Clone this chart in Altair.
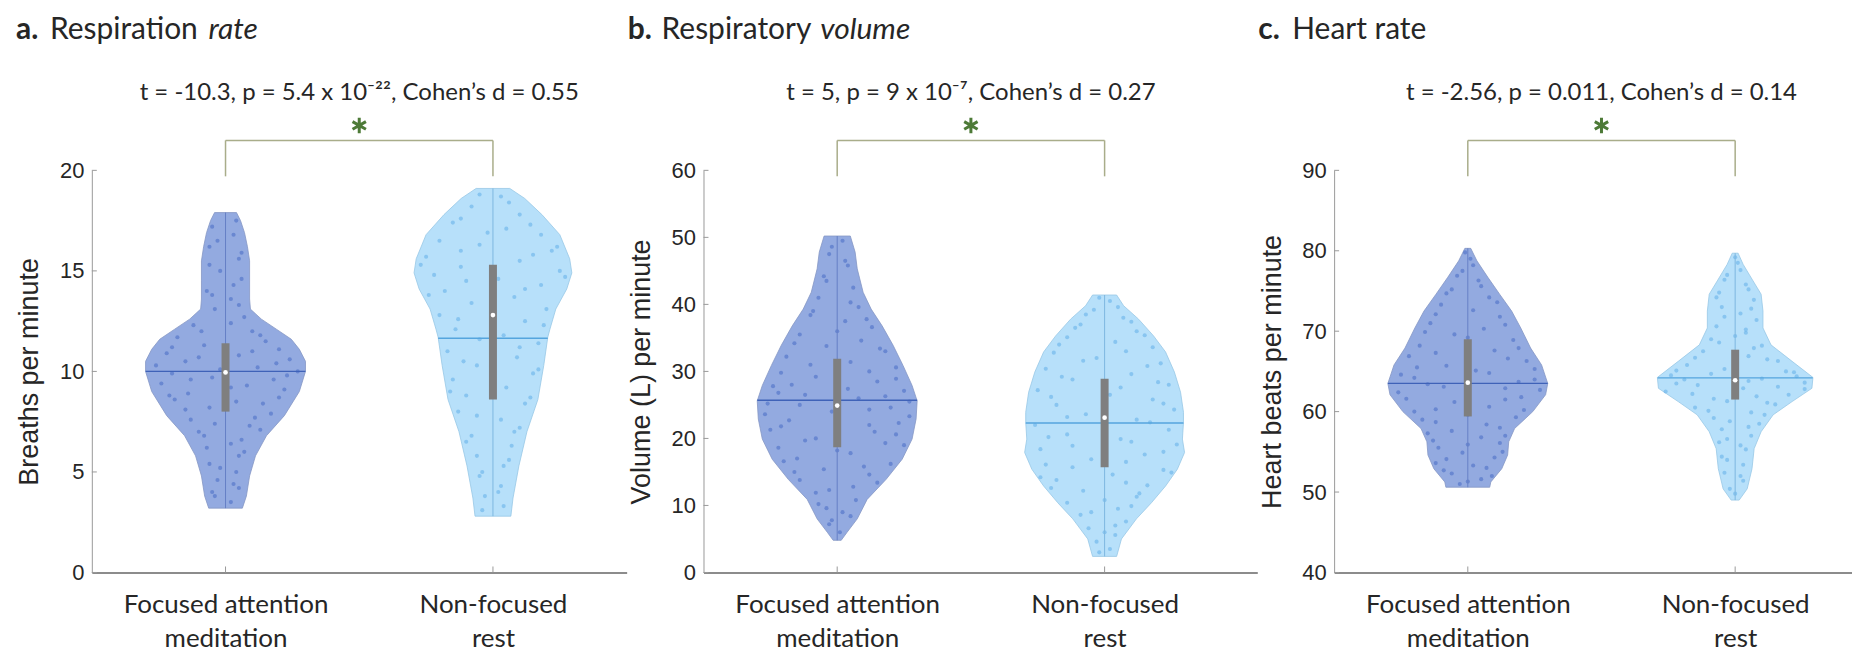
import altair as alt
import pandas as pd

# ---------------- data ----------------
FA_LABEL = ["Focused attention", "meditation"]
NF_LABEL = ["Non-focused", "rest"]

# violin outlines: y levels and half-widths (in category units)
a_fa_y = [3.2, 3.8, 4.8, 5.8, 6.8, 7.8, 9.0, 10.0, 10.5, 11.1, 11.6, 12.1, 12.6, 13.1, 13.6, 14.5, 15.5, 16.2, 16.9, 17.5, 17.9]
a_fa_w = [0.063, 0.078, 0.090, 0.112, 0.153, 0.220, 0.276, 0.299, 0.299, 0.276, 0.246, 0.190, 0.134, 0.093, 0.090, 0.090, 0.090, 0.082, 0.071, 0.056, 0.041]
a_nf_y = [2.8, 3.7, 5.3, 7.0, 8.6, 10.3, 11.7, 12.1, 13.1, 14.1, 14.9, 15.6, 16.8, 17.8, 18.6, 19.1]
a_nf_w = [0.067, 0.075, 0.097, 0.127, 0.168, 0.190, 0.205, 0.213, 0.235, 0.276, 0.295, 0.287, 0.250, 0.183, 0.119, 0.063]
b_fa_y = [4.8, 6.0, 8.0, 10.9, 13.9, 16.9, 19.9, 22.9, 25.6, 27.9, 30.9, 33.9, 36.8, 39.3, 41.8, 45.3, 47.8, 50.2]
b_fa_w = [0.015, 0.037, 0.075, 0.112, 0.183, 0.243, 0.280, 0.295, 0.299, 0.280, 0.246, 0.209, 0.168, 0.127, 0.097, 0.075, 0.067, 0.049]
b_nf_y = [2.4, 5.0, 8.0, 10.4, 12.9, 15.4, 17.9, 19.9, 22.4, 23.9, 26.9, 29.9, 32.9, 35.3, 37.8, 39.8, 41.4]
b_nf_w = [0.045, 0.063, 0.119, 0.175, 0.228, 0.272, 0.299, 0.291, 0.295, 0.295, 0.284, 0.261, 0.228, 0.183, 0.127, 0.071, 0.045]
c_fa_y = [50.6, 51.25, 52.9, 54.6, 56.25, 57.9, 60.0, 62.1, 63.5, 65.8, 67.9, 70.4, 72.5, 74.6, 76.7, 78.75, 80.3]
c_fa_w = [0.082, 0.086, 0.127, 0.149, 0.153, 0.175, 0.243, 0.291, 0.299, 0.276, 0.235, 0.198, 0.164, 0.119, 0.075, 0.034, 0.011]
c_nf_y = [49.0, 50.4, 52.9, 55.4, 57.5, 59.6, 61.25, 62.9, 64.25, 66.25, 68.3, 70.4, 72.5, 74.6, 76.25, 78.3, 79.7]
c_nf_w = [0.015, 0.045, 0.063, 0.071, 0.097, 0.142, 0.213, 0.287, 0.291, 0.213, 0.134, 0.104, 0.104, 0.097, 0.067, 0.030, 0.011]

# summary: q1, q3, median, mean, mean-line half width
a_fa_stats = [8.0, 11.4, 9.95, 10.0, 0.299]
a_nf_stats = [8.6, 15.3, 12.8, 11.65, 0.205]
b_fa_stats = [18.7, 31.9, 24.9, 25.7, 0.299]
b_nf_stats = [15.7, 28.9, 23.1, 22.3, 0.295]
c_fa_stats = [59.4, 69.0, 63.6, 63.5, 0.299]
c_nf_stats = [61.5, 67.7, 63.9, 64.2, 0.290]

# individual data points (offset from category centre, value)
a_fa_dx = [-0.05, 0.03, -0.06, 0.05, -0.02, 0.06, -0.07, 0.02, -0.04, 0.07, -0.12, 0.10, -0.18, 0.15, -0.08, 0.20, -0.22, 0.05, 0.24, -0.15, -0.26, 0.12, 0.27, -0.20, -0.05, 0.18, -0.24, 0.08, 0.22, -0.14, -0.19, 0.14, -0.06, 0.17, -0.13, 0.09, -0.10, 0.06, -0.07, 0.05, -0.06, 0.04, -0.03, 0.05, -0.04, 0.02,
           0.04, -0.03, 0.06, -0.06, 0.03, -0.05, 0.05, 0.02, -0.09, 0.13, -0.20, 0.10, -0.10, 0.19, -0.02, 0.23, -0.13, 0.02, -0.21, 0.20, 0.04, -0.15, 0.11, -0.04, 0.13, -0.08, 0.02, 0.07, -0.02, 0.03, -0.05]
a_fa_v = [17.2, 16.8, 16.2, 15.6, 15.0, 14.6, 14.0, 13.6, 13.1, 12.7, 12.3, 12.0, 11.7, 11.5, 11.3, 11.1, 10.9, 10.8, 10.6, 10.5, 10.3, 10.2, 10.0, 9.9, 9.7, 9.6, 9.4, 9.3, 9.1, 8.9, 8.6, 8.4, 8.2, 7.9, 7.6, 7.3, 7.0, 6.6, 6.2, 5.8, 5.4, 5.0, 4.6, 4.2, 3.8, 3.5,
          17.5, 16.5, 15.9, 15.3, 14.3, 13.8, 13.3, 12.4, 12.0, 11.8, 11.2, 11.0, 10.7, 10.4, 10.1, 9.8, 9.6, 9.2, 8.8, 8.7, 8.5, 8.1, 7.7, 7.4, 7.1, 6.8, 6.4, 6.0, 5.2, 4.4, 4.0]
a_nf_dx = [0.03, -0.08, 0.10, -0.15, 0.05, 0.18, -0.20, -0.05, 0.22, -0.25, 0.10, -0.12, 0.25, -0.22, 0.02, 0.18, -0.18, 0.08, -0.08, 0.20, -0.20, 0.12, -0.14, 0.04, 0.17, -0.17, 0.09, -0.06, 0.15, -0.15, 0.05, -0.10, 0.12, -0.13, 0.03, 0.10, -0.08, 0.07, -0.06, 0.04, -0.05, 0.03, -0.03, 0.04,
           -0.05, 0.06, -0.12, 0.14, -0.02, 0.24, -0.12, 0.15, -0.27, 0.00, 0.27, -0.10, 0.12, -0.24, 0.00, -0.13, 0.19, -0.05, 0.10, -0.11, 0.17, 0.00, -0.16, 0.14, -0.06, 0.08, -0.10, 0.06, -0.04, 0.02, -0.04]
a_nf_v = [18.7, 18.2, 17.8, 17.4, 17.1, 16.8, 16.5, 16.3, 16.0, 15.7, 15.5, 15.2, 15.0, 14.8, 14.6, 14.3, 14.0, 13.7, 13.4, 13.1, 12.8, 12.5, 12.1, 11.8, 11.4, 11.0, 10.7, 10.3, 9.9, 9.6, 9.2, 8.8, 8.4, 8.0, 7.6, 7.2, 6.8, 6.3, 5.8, 5.3, 4.8, 4.3, 3.8, 3.3,
          18.8, 18.4, 17.6, 17.3, 16.9, 16.2, 16.0, 15.8, 15.3, 15.1, 14.7, 14.5, 14.1, 13.8, 13.2, 12.6, 12.3, 11.6, 11.2, 10.5, 10.1, 9.4, 9.0, 8.7, 7.8, 7.0, 6.5, 5.6, 5.0, 4.0, 3.1]
b_fa_dx = [0.02, -0.03, 0.04, -0.05, 0.06, -0.07, 0.08, -0.10, 0.03, 0.13, -0.14, 0.09, -0.04, 0.18, -0.19, 0.05, 0.22, -0.21, -0.08, 0.15, -0.24, 0.25, -0.12, 0.08, -0.26, 0.20, -0.02, 0.27, -0.18, 0.12, -0.25, 0.22, -0.08, 0.18, -0.22, 0.05, -0.15, 0.20, -0.05, 0.12, -0.14, 0.06, -0.08, 0.07, -0.04, 0.05, -0.03, 0.01,
           -0.02, 0.03, -0.04, 0.05, -0.09, 0.11, 0.00, -0.16, 0.16, -0.10, 0.12, 0.22, -0.17, 0.04, -0.22, 0.18, 0.27, -0.14, 0.12, -0.27, 0.00, 0.23, -0.21, 0.14, -0.12, 0.25, 0.00, -0.20, 0.10, -0.16, 0.15, -0.03, -0.07, 0.02, -0.02]
b_fa_v = [49.5, 47.5, 45.8, 44.2, 42.5, 41.0, 39.6, 38.4, 37.5, 36.6, 35.5, 34.6, 33.8, 33.0, 32.2, 31.4, 30.6, 29.8, 29.2, 28.5, 27.8, 27.1, 26.5, 26.0, 25.2, 24.6, 24.0, 23.3, 22.7, 22.0, 21.3, 20.6, 20.0, 19.3, 18.6, 17.8, 17.0, 16.2, 15.4, 14.6, 13.8, 12.8, 11.9, 10.8, 9.6, 8.4, 7.2, 6.0,
          48.6, 46.5, 43.5, 40.3, 39.0, 37.8, 36.0, 34.2, 33.4, 31.0, 30.0, 28.9, 28.0, 27.4, 26.8, 26.3, 25.5, 25.0, 24.3, 23.6, 23.0, 22.3, 21.8, 21.0, 19.7, 19.0, 18.2, 16.6, 15.8, 15.0, 13.4, 12.3, 10.2, 9.0, 7.8]
b_nf_dx = [0.02, -0.04, 0.07, -0.09, 0.12, -0.14, 0.04, 0.18, -0.19, -0.03, 0.21, -0.22, 0.10, -0.12, 0.24, -0.25, 0.02, 0.18, -0.18, 0.26, -0.07, 0.12, -0.26, 0.24, -0.14, 0.06, 0.27, -0.24, 0.15, -0.05, -0.22, 0.22, 0.03, -0.18, 0.16, -0.08, 0.12, -0.14, 0.05, -0.09, 0.08, -0.06, 0.04, -0.03, 0.02,
           -0.02, 0.05, -0.07, 0.10, -0.11, 0.15, -0.17, 0.08, -0.08, 0.16, -0.16, 0.20, 0.06, -0.20, 0.22, 0.00, -0.14, 0.17, 0.00, -0.21, 0.10, -0.12, 0.22, 0.08, -0.12, 0.25, -0.24, 0.08, -0.20, 0.13, 0.00, 0.10, -0.05, 0.04, 0.00, -0.02]
b_nf_v = [40.5, 39.2, 38.0, 37.0, 36.0, 35.1, 34.4, 33.6, 32.8, 32.0, 31.2, 30.4, 29.6, 28.8, 28.0, 27.2, 26.5, 25.8, 25.0, 24.3, 23.6, 22.8, 22.0, 21.3, 20.6, 19.9, 19.1, 18.4, 17.6, 16.9, 16.1, 15.3, 14.6, 13.8, 13.0, 12.2, 11.3, 10.4, 9.5, 8.6, 7.6, 6.6, 5.6, 4.6, 3.5,
          41.0, 39.6, 38.5, 37.4, 36.5, 35.4, 34.0, 33.0, 31.6, 30.8, 29.2, 28.4, 27.6, 26.2, 25.2, 24.6, 23.2, 22.4, 21.6, 20.2, 19.5, 18.9, 18.0, 16.5, 15.7, 14.9, 14.2, 13.4, 12.6, 11.8, 10.8, 9.9, 9.0, 7.0, 6.0, 3.0]
c_fa_dx = [0.01, -0.02, 0.04, -0.06, 0.08, -0.10, 0.02, 0.12, -0.14, 0.06, -0.05, 0.17, -0.18, 0.10, -0.22, 0.22, -0.08, 0.03, -0.25, 0.25, -0.15, 0.14, -0.26, 0.20, -0.05, 0.08, -0.20, 0.18, -0.12, 0.12, -0.15, 0.05, 0.12, -0.11, -0.02, 0.10, -0.12, 0.07, -0.06, 0.05, -0.03,
           -0.01, 0.02, -0.04, 0.05, -0.08, 0.11, -0.12, 0.14, -0.16, 0.00, 0.19, -0.12, 0.15, -0.19, 0.25, 0.08, -0.20, 0.19, -0.09, 0.27, 0.00, -0.23, 0.14, -0.12, 0.21, 0.00, -0.17, 0.07, -0.06, 0.14, -0.13, 0.00, 0.13, -0.08, 0.02, -0.09, 0.09, 0.00]
c_fa_v = [79.0, 77.5, 76.3, 75.2, 74.2, 73.3, 72.6, 71.8, 71.0, 70.3, 69.6, 68.9, 68.2, 67.6, 66.9, 66.3, 65.7, 65.1, 64.6, 64.0, 63.4, 62.9, 62.4, 61.8, 61.2, 60.6, 60.0, 59.3, 58.7, 58.0, 57.3, 56.8, 56.1, 55.5, 54.9, 54.3, 53.6, 53.0, 52.3, 51.6, 51.0,
          79.8, 78.2, 76.9, 75.6, 74.7, 73.6, 72.1, 70.8, 69.9, 69.2, 67.9, 67.3, 66.6, 65.5, 65.3, 64.8, 64.2, 63.7, 63.1, 62.7, 62.2, 61.6, 61.5, 60.3, 60.2, 59.6, 59.0, 58.4, 57.6, 57.0, 56.4, 55.9, 55.0, 54.1, 53.3, 52.7, 52.0, 51.3]
c_nf_dx = [0.01, -0.03, 0.04, -0.06, 0.07, -0.05, 0.02, 0.08, -0.07, 0.04, -0.09, 0.10, -0.12, 0.05, 0.16, -0.18, -0.04, 0.22, -0.24, 0.10, 0.26, -0.14, 0.03, -0.26, 0.20, -0.08, 0.12, -0.15, 0.06, -0.08, 0.09, -0.05, 0.06, -0.06, 0.04, -0.05, 0.03, -0.04, 0.03, -0.02,
           0.00, 0.02, -0.04, 0.05, -0.07, 0.06, -0.04, 0.04, 0.00, -0.06, 0.07, -0.15, 0.12, 0.00, -0.22, 0.19, -0.09, 0.23, -0.19, 0.05, -0.22, 0.16, 0.26, -0.16, 0.08, -0.03, 0.15, -0.10, 0.11, -0.02, 0.05, -0.03, 0.02, -0.03, 0.02, 0.00]
c_nf_v = [78.5, 77.0, 75.8, 74.8, 73.9, 73.0, 72.2, 71.4, 70.6, 69.8, 69.0, 68.2, 67.5, 66.9, 66.3, 65.8, 65.3, 64.9, 64.5, 64.1, 63.6, 63.3, 62.9, 62.5, 62.1, 61.6, 61.1, 60.5, 59.9, 59.2, 58.5, 57.8, 57.0, 56.2, 55.3, 54.4, 53.4, 52.4, 51.4, 50.4,
          79.2, 77.6, 76.4, 75.2, 74.2, 72.8, 71.8, 70.2, 69.4, 68.6, 67.9, 66.7, 66.5, 66.0, 65.1, 65.0, 64.7, 64.4, 64.0, 63.8, 63.5, 63.1, 62.8, 62.2, 61.9, 61.3, 60.9, 60.1, 59.6, 58.8, 58.1, 56.6, 55.8, 54.0, 52.0, 49.8]

# axis ticks
a_ticks = [0, 5, 10, 15, 20]
b_ticks = [0, 10, 20, 30, 40, 50, 60]
c_ticks = [40, 50, 60, 70, 80, 90]

# texts
a_title = ["a.", "Respiration", "rate"]
b_title = ["b.", "Respiratory", "volume"]
c_title = ["c.", "Heart rate", ""]
a_stat = "t = -10.3, p = 5.4 x 10\u207b\u00b2\u00b2, Cohen\u2019s d = 0.55"
b_stat = "t = 5, p = 9 x 10\u207b\u2077, Cohen\u2019s d = 0.27"
c_stat = "t = -2.56, p = 0.011, Cohen\u2019s d = 0.14"
a_ytitle = "Breaths per minute"
b_ytitle = "Volume (L) per minute"
c_ytitle = "Heart beats per minute"

# ---------------- styling ----------------
H = 403
TXT = "#262626"
FA_FILL, NF_FILL = "#93AAE0", "#B7E0FA"
FA_EDGE, NF_EDGE = "#8597c4", "#98c8e6"
FA_DOT, NF_DOT = "#4d70c6", "#69b3ea"
FA_MEAN, NF_MEAN = "#3f62b8", "#55a5de"
FA_VLINE, NF_VLINE = "#6580c6", "#7db8e0"
BOX = "#7f7f7f"
BRACKET = "#a9ad8a"
STAR = "#4d7a37"
AST = "M0,-1L0,1M-0.866,-0.5L0.866,0.5M-0.866,0.5L0.866,-0.5"
label_expr = "datum.value == 1 ? ['%s', '%s'] : ['%s', '%s']" % (FA_LABEL[0], FA_LABEL[1], NF_LABEL[0], NF_LABEL[1])


def panel(width, xdom, ydom, ticks, ytitle, title, title_dx, stat, violins):
    xs = alt.Scale(domain=xdom, nice=False, zero=False)
    ys = alt.Scale(domain=ydom, nice=False, zero=False)
    xaxis = alt.Axis(title=None, values=[1, 2], labelExpr=label_expr, ticks=False, grid=False,
                     domainColor="#8c8c8c", domainWidth=2, labelFont="Lato", labelFontSize=26,
                     labelColor=TXT, labelLineHeight=34, labelPadding=19, labelAlign="center",
                     labelLimit=0)
    yaxis = alt.Axis(title=ytitle, values=ticks, ticks=False, grid=False, domainColor="#9a9a9a",
                     domainWidth=1, labelFont="Liberation Sans", labelFontSize=22, labelColor=TXT,
                     labelPadding=8, titleFont="Liberation Sans", titleFontSize=27, titleColor=TXT,
                     titleFontWeight="normal", titleX=-62, titleY=H / 2, titleAngle=-90,
                     titleBaseline="middle", titleAlign="center", titleLimit=0)

    def X(f):
        return alt.X(f, type="quantitative", scale=xs, axis=xaxis)

    def Y(f):
        return alt.Y(f, type="quantitative", scale=ys, axis=yaxis)

    layers = []
    for c, vy, vw, st, dx, dv, fill, edge, dot, meanc, vline in violins:
        vdf = pd.DataFrame({"y": vy, "lo": [c - w for w in vw], "hi": [c + w for w in vw]})
        layers.append(alt.Chart(vdf).mark_area(orient="horizontal", fill=fill, stroke=edge,
                                               strokeWidth=0.8, opacity=1, fillOpacity=1)
                      .encode(y=Y("y"), x=X("lo"), x2="hi"))
        pdf = pd.DataFrame({"px": [c + d for d in dx], "py": dv})
        layers.append(alt.Chart(pdf).mark_circle(size=17, color=dot, opacity=0.6)
                      .encode(x=X("px"), y=Y("py")))
        ldf = pd.DataFrame({"c": [c], "ymin": [min(vy)], "ymax": [max(vy)]})
        layers.append(alt.Chart(ldf).mark_rule(color=vline, strokeWidth=1)
                      .encode(x=X("c"), y=Y("ymin"), y2="ymax"))
        mdf = pd.DataFrame({"lo": [c - st[4]], "hi": [c + st[4]], "m": [st[3]]})
        layers.append(alt.Chart(mdf).mark_rule(color=meanc, strokeWidth=1.3)
                      .encode(x=X("lo"), x2="hi", y=Y("m")))
        bdf = pd.DataFrame({"c": [c], "q1": [st[0]], "q3": [st[1]], "med": [st[2]]})
        layers.append(alt.Chart(bdf).mark_rule(color=BOX, strokeWidth=8)
                      .encode(x=X("c"), y=Y("q1"), y2="q3"))
        layers.append(alt.Chart(bdf).mark_point(filled=True, color="white", size=22, opacity=1)
                      .encode(x=X("c"), y=Y("med")))

    # inward ticks
    tdf = pd.DataFrame({"t": ticks})
    layers.append(alt.Chart(tdf).mark_rule(color="#9a9a9a", strokeWidth=1)
                  .encode(y=Y("t"), x=alt.value(0), x2=alt.value(5)))
    cdf = pd.DataFrame({"c": [1, 2]})
    layers.append(alt.Chart(cdf).mark_rule(color="#9a9a9a", strokeWidth=1)
                  .encode(x=X("c"), y=alt.value(H), y2=alt.value(H - 6)))

    # significance bracket
    brdf = pd.DataFrame({"c1": [1], "c2": [2], "cm": [1.5], "s": [stat]})
    layers.append(alt.Chart(brdf).mark_rule(color=BRACKET, strokeWidth=1.5)
                  .encode(x=X("c1"), x2="c2", y=alt.value(-30)))
    layers.append(alt.Chart(cdf).mark_rule(color=BRACKET, strokeWidth=1.5)
                  .encode(x=X("c"), y=alt.value(-30), y2=alt.value(6)))
    layers.append(alt.Chart(brdf).mark_point(shape=AST, filled=False, stroke=STAR, strokeWidth=3,
                                             size=240, opacity=1)
                  .encode(x=X("cm"), y=alt.value(-45)))
    layers.append(alt.Chart(brdf).mark_text(font="Lato", fontSize=24, color=TXT, baseline="middle",
                                            align="center")
                  .encode(x=X("cm"), y=alt.value(-77), text="s:N"))

    # panel title (bold letter, regular words, italic word)
    styles = [("bold", "normal"), ("normal", "normal"), ("normal", "italic")]
    for txt, off, (fw, fs) in zip(title, title_dx, styles):
        if not txt:
            continue
        tt = pd.DataFrame({"t": [txt]})
        layers.append(alt.Chart(tt).mark_text(font="Lato", fontSize=30, color=TXT, align="left",
                                              baseline="middle", fontWeight=fw, fontStyle=fs)
                      .encode(x=alt.value(off), y=alt.value(-141), text="t:N"))

    return alt.layer(*layers).properties(width=width, height=H)


pa = panel(536, [0.5, 2.5], [0, 20], a_ticks, a_ytitle, a_title, [-76, -42, 117], a_stat, [
    (1, a_fa_y, a_fa_w, a_fa_stats, a_fa_dx, a_fa_v, FA_FILL, FA_EDGE, FA_DOT, FA_MEAN, FA_VLINE),
    (2, a_nf_y, a_nf_w, a_nf_stats, a_nf_dx, a_nf_v, NF_FILL, NF_EDGE, NF_DOT, NF_MEAN, NF_VLINE),
])
pb = panel(555, [0.5, 2.571], [0, 60], b_ticks, b_ytitle, b_title, [-76, -42, 117], b_stat, [
    (1, b_fa_y, b_fa_w, b_fa_stats, b_fa_dx, b_fa_v, FA_FILL, FA_EDGE, FA_DOT, FA_MEAN, FA_VLINE),
    (2, b_nf_y, b_nf_w, b_nf_stats, b_nf_dx, b_nf_v, NF_FILL, NF_EDGE, NF_DOT, NF_MEAN, NF_VLINE),
])
pc = panel(519, [0.5, 2.437], [40, 90], c_ticks, c_ytitle, c_title, [-76, -42, 0], c_stat, [
    (1, c_fa_y, c_fa_w, c_fa_stats, c_fa_dx, c_fa_v, FA_FILL, FA_EDGE, FA_DOT, FA_MEAN, FA_VLINE),
    (2, c_nf_y, c_nf_w, c_nf_stats, c_nf_dx, c_nf_v, NF_FILL, NF_EDGE, NF_DOT, NF_MEAN, NF_VLINE),
])

chart = (alt.hconcat(pa, pb, pc, spacing=77, bounds="flush")
         .configure_view(stroke=None)
         .properties(padding={"left": 8, "top": 6, "right": 0, "bottom": 0}, background="white"))

chart.save("out.html", embed_options={"renderer": "svg", "actions": False})
